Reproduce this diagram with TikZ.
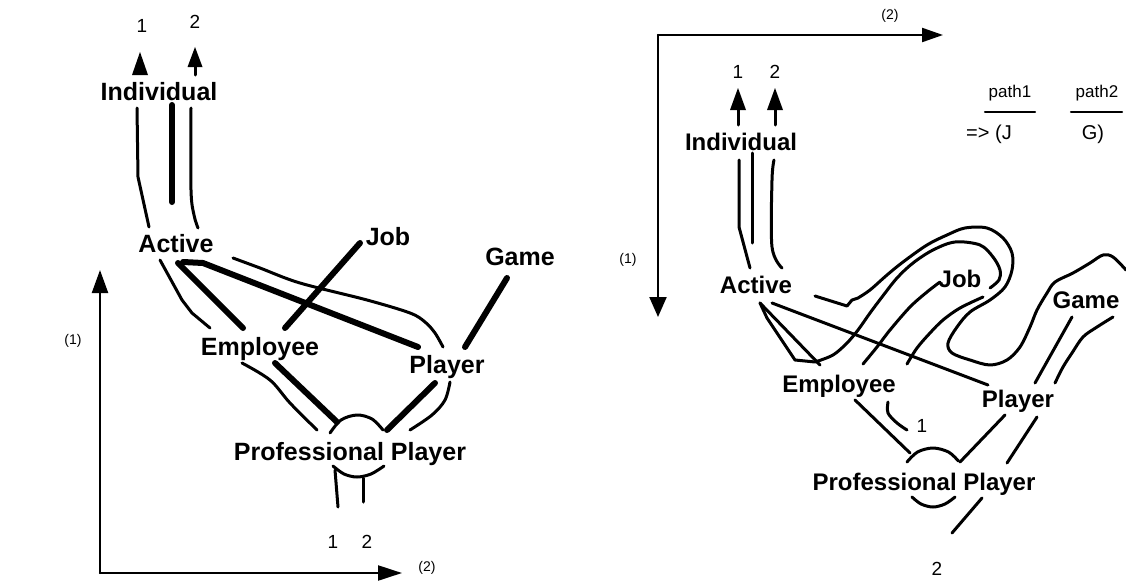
\documentclass[tikz,border=0pt]{standalone}
\usepackage{fontspec}
\setmainfont{Liberation Sans}
\usetikzlibrary{arrows.meta}
\begin{document}
\begin{tikzpicture}[x=1pt,y=-1pt,
  line join=round, line cap=round,
  lblL/.style={font=\bfseries\fontsize{25}{30}\selectfont, inner sep=0pt, anchor=base},
  lblR/.style={font=\bfseries\fontsize{24}{29}\selectfont, inner sep=0pt, anchor=base},
  num/.style={font=\fontsize{19}{22}\selectfont, inner sep=0pt, anchor=base},
  axlbl/.style={font=\fontsize{14}{16}\selectfont, inner sep=0pt},
  pathlbl/.style={font=\fontsize{17}{20}\selectfont, inner sep=0pt, anchor=base},
  thinline/.style={line width=3pt},
  thickline/.style={line width=6pt},
  axisline/.style={line width=2.2pt},
  smoothp/.style={smooth, tension=0.55}
]
\useasboundingbox[fill=white] (0,0) rectangle (1126,586);

% ================= LEFT PANEL =================
\coordinate (LO) at (100,573);
\coordinate (LYtip) at (100,270);
\coordinate (LXtip) at (402,573);
\draw[axisline, -{Triangle[length=23pt,width=16pt]}] (LO) -- (LYtip);
\draw[axisline, -{Triangle[length=24pt,width=15pt]}] (LO) -- (LXtip);
\node[axlbl] (l1ax) at (73,341) {(1)};
\node[axlbl] (l2ax) at (427,568) {(2)};

\node[lblL] (lInd) at (159,100) {Individual};
\node[lblL] (lAct) at (176,252) {Active};
\node[lblL] (lJob) at (388,245) {Job};
\node[lblL] (lGame) at (520,265) {Game};
\node[lblL] (lEmp) at (260,355) {Employee};
\node[lblL] (lPla) at (447,373) {Player};
\node[lblL] (lPP) at (350,460) {Professional Player};
\node[num] (lt1) at (142,33) {1};
\node[num] (lt2) at (195,29) {2};
\node[num] (lb1) at (333,548) {1};
\node[num] (lb2) at (367,548) {2};

% top arrows
\fill (132,75) -- (140,52) -- (148,75) -- cycle;
\draw[thinline] (195,75) -- (195,62);
\fill (187.5,67) -- (195,47) -- (202.5,67) -- cycle;

% Individual - Active
\draw[thinline] (137,108) -- (138,177) -- (149,227);
\draw[thinline] plot[smoothp] coordinates {(191,108) (191,190) (194,215) (198,228)};
\draw[thickline] (172,105) -- (172,202);

% Active - Employee
\draw[thinline] (160,260) -- (182,300) -- (192,313) -- (210,328);
\draw[thickline] (178,263) -- (243,328);
% Active - Player
\draw[thickline] (183,262) -- (203,263) -- (418,347);
\draw[thinline] plot[smoothp] coordinates {(233,258) (260,268) (300,283) (367,300) (410,313) (425,322) (435,333) (443,347)};
% Job - Employee
\draw[thickline] (360,243) -- (285,328);
% Game - Player
\draw[thickline] (507,278) -- (465,347);
% Employee - PP
\draw[thinline] plot[smoothp] coordinates {(242,363) (270,380) (290,403) (317,430)};
\draw[thickline] (275,363) -- (337,422);
% Player - PP
\draw[thickline] (435,383) -- (387,430);
\draw[thinline] plot[smoothp] coordinates {(450,382) (445,400) (432,415) (410,430)};
% circle arcs
\draw[thinline] plot[smoothp] coordinates {(330,433) (341,420) (357,415) (372,419) (383,430)};
\draw[thinline] plot[smoothp] coordinates {(333,466) (344,474) (357,477) (371,474) (384,466)};
% bottom
\draw[thinline] (335,470) -- (338,507);
\draw[thinline] (363,478) -- (363,502);

% ================= RIGHT PANEL =================
\coordinate (RO) at (658,35);
\coordinate (RXtip) at (943,35);
\coordinate (RYtip) at (658,317);
\draw[axisline, -{Triangle[length=21pt,width=14pt]}] (RO) -- (RXtip);
\draw[axisline, -{Triangle[length=20pt,width=17pt]}] (RO) -- (RYtip);
\node[axlbl] (r2ax) at (890,16) {(2)};
\node[axlbl] (r1ax) at (628,260) {(1)};

\node[lblR] (rInd) at (741,150) {Individual};
\node[lblR] (rAct) at (756,293) {Active};
\node[lblR] (rJob) at (960,287) {Job};
\node[lblR] (rGame) at (1086,308) {Game};
\node[lblR] (rEmp) at (839,392) {Employee};
\node[lblR] (rPla) at (1018,407) {Player};
\node[lblR] (rPP) at (924,490) {Professional Player};
\node[num] (rt1) at (738,78) {1};
\node[num] (rt2) at (775,78) {2};
\node[num] (rm1) at (922,432) {1};
\node[num] (rb2) at (937,575) {2};

\node[pathlbl] (p1) at (1010,97) {path1};
\node[pathlbl] (p2) at (1097,97) {path2};
\draw[axisline] (985,112) -- (1035,112);
\draw[axisline] (1071,112) -- (1122,112);
\node[pathlbl, font=\fontsize{20}{23}\selectfont] (pJ) at (989,139) {=> (J};
\node[pathlbl, font=\fontsize{20}{23}\selectfont] (pG) at (1093,139) {G)};

% top arrows
\draw[thinline] (738,125) -- (738,104);
\fill (730,110) -- (738,88) -- (746,110) -- cycle;
\draw[thinline] (775,125) -- (775,104);
\fill (767,110) -- (775,88) -- (783,110) -- cycle;

% Individual - Active
\draw[thinline] (739,160) -- (739,227) -- (750,268);
\draw[thinline] (752,153) -- (752,243);
\draw[thinline] plot[smoothp] coordinates {(774,160) (772,180) (772,247) (782,268)};

% Active -> inner curve around Job
\draw[thinline] (760,303) -- (767,318) -- (795,360) -- plot[smoothp] coordinates {(815,362) (833,355) (847,343) (858,330) (870,313) (882,297) (897,278) (913,263) (933,250) (955,242) (980,245) (993,257) (1000,270) (999,280) (990,288)};
% Active - Employee
\draw[thinline] (760,303) -- (820,365);
% outer curve
\draw[thinline] (815,296) -- (847,306) -- (852,300) -- plot[smoothp] coordinates {(858,298) (870,290) (887,275) (903,262) (927,245) (947,235) (965,228) (987,228) (1003,238) (1012,253) (1012,270) (1005,287) (990,300) (970,312) (957,327) (948,343) (952,353) (970,360) (990,365) (1007,360) (1020,347) (1030,327) (1037,310) (1047,293) (1055,282) (1073,273) (1090,263) (1103,255) (1113,257) (1126,270)};
% band lower line
\draw[thinline] plot[smoothp] coordinates {(983,297) (960,308) (943,320) (930,333) (917,348) (907,364)};
% Job - Employee
\draw[thinline] plot[smoothp] coordinates {(940,282) (927,292) (910,307) (890,330) (877,347) (863,364)};
% Active - Player
\draw[thinline] (772,303) -- (988,385);
% Game - Player
\draw[thinline] (1072,317) -- (1035,383);
\draw[thinline] plot[smoothp] coordinates {(1113,317) (1097,327) (1083,337) (1072,353) (1063,367) (1055,383)};
% Employee - 1
\draw[thinline] plot[smoothp] coordinates {(888,402) (888,413) (897,423) (907,430)};
% Employee - PP
\draw[thinline] (855,400) -- (910,453);
% Player - PP
\draw[thinline] (1005,415) -- (960,462);
\draw[thinline] (1037,417) -- (1007,463);
\draw[thinline] (982,498) -- (952,533);
% arcs
\draw[thinline] plot[smoothp] coordinates {(907,462) (917.5,452) (933,448) (948.5,452) (958.4,461)};
\draw[thinline] plot[smoothp] coordinates {(912,497) (921,504) (933,507) (945,504) (955,497)};
\end{tikzpicture}
\end{document}
